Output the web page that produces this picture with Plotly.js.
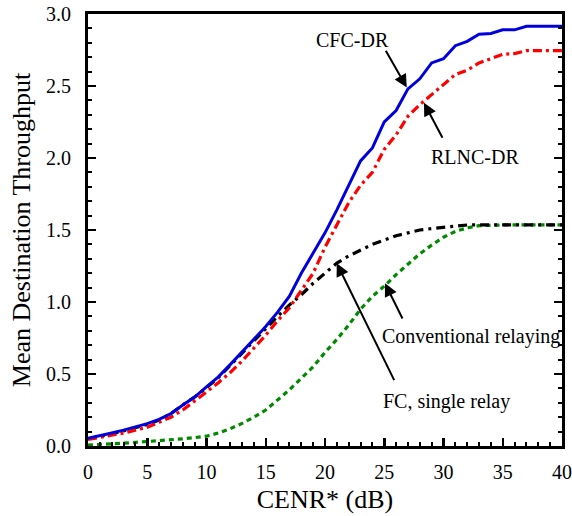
<!DOCTYPE html>
<html>
<head>
<meta charset="utf-8">
<script src="https://cdn.plot.ly/plotly-3.0.1.min.js"></script>
<style>html,body{margin:0;padding:0;background:#fff;}#chart{width:572px;height:516px;}</style>
</head>
<body>
<div id="chart"></div>
<script>
const cenr = [0,1,2,3,4,5,6,7,8,9,10,11,12,13,14,15,16,17,18,19,20,21,22,23,24,25,26,27,28,29,30,31,32,33,34,35,36,37,38,39,40];
const cfcDR = [0.053,0.07,0.09,0.11,0.13,0.155,0.185,0.225,0.285,0.34,0.41,0.48,0.565,0.655,0.74,0.83,0.93,1.04,1.2,1.34,1.48,1.64,1.81,1.98,2.07,2.25,2.33,2.48,2.55,2.66,2.69,2.78,2.81,2.86,2.865,2.89,2.89,2.915,2.915,2.915,2.915];
const rlncDR = [0.046,0.06,0.075,0.09,0.11,0.13,0.165,0.2,0.25,0.31,0.375,0.44,0.51,0.59,0.68,0.77,0.87,0.96,1.08,1.2,1.38,1.53,1.69,1.81,1.9,2.06,2.16,2.29,2.37,2.44,2.51,2.58,2.61,2.66,2.69,2.72,2.725,2.745,2.745,2.745,2.745];
const conventional = [0.05,0.065,0.085,0.105,0.125,0.15,0.18,0.225,0.285,0.34,0.405,0.475,0.56,0.645,0.73,0.82,0.9,0.98,1.05,1.13,1.2,1.27,1.32,1.36,1.4,1.43,1.46,1.48,1.5,1.51,1.52,1.53,1.535,1.535,1.535,1.535,1.535,1.535,1.535,1.535,1.535];
const fcSingle = [0.007,0.01,0.015,0.02,0.025,0.03,0.035,0.042,0.05,0.058,0.068,0.09,0.12,0.157,0.2,0.25,0.32,0.39,0.47,0.55,0.65,0.74,0.84,0.95,1.04,1.11,1.19,1.265,1.335,1.395,1.45,1.49,1.515,1.53,1.535,1.535,1.535,1.535,1.535,1.535,1.535];

const FONT = '"Liberation Serif", serif';

const traces = [
  {x: cenr, y: fcSingle, mode: 'lines', name: 'FC, single relay',
   line: {color: '#008a00', width: 3.2, dash: '5px,4px'}},
  {x: cenr, y: conventional, mode: 'lines', name: 'Conventional relaying',
   line: {color: '#000000', width: 3.2, dash: '9px,5px,3px,5px'}},
  {x: cenr, y: rlncDR, mode: 'lines', name: 'RLNC-DR',
   line: {color: '#ff0000', width: 3.2, dash: '9px,4px,3px,4px'}},
  {x: cenr, y: cfcDR, mode: 'lines', name: 'CFC-DR',
   line: {color: '#0000dd', width: 3}}
];

function label(text, x, y) {
  return {text: text, x: x, y: y, xref: 'x', yref: 'y', showarrow: false,
          font: {family: FONT, size: 20, color: '#000'}, xanchor: 'center', yanchor: 'middle'};
}
function arrow(hx, hy, tx, ty) {
  return {text: '', x: hx, y: hy, ax: tx, ay: ty, xref: 'x', yref: 'y', axref: 'x', ayref: 'y',
          showarrow: true, arrowhead: 2, arrowsize: 1.3, arrowwidth: 2, arrowcolor: '#000', standoff: 0};
}

const layout = {
  width: 572, height: 516,
  margin: {l: 88, r: 10, t: 14, b: 70},
  paper_bgcolor: '#fff', plot_bgcolor: '#fff',
  showlegend: false,
  font: {family: FONT, color: '#000', size: 19},
  xaxis: {
    range: [0, 40], tickmode: 'linear', tick0: 0, dtick: 5,
    ticks: 'inside', ticklen: 8, tickwidth: 2.5, tickcolor: '#000',
    minor: {ticks: 'inside', dtick: 1, ticklen: 4, tickwidth: 2, tickcolor: '#000'},
    showline: true, linewidth: 3, linecolor: '#000', mirror: true,
    showgrid: false, zeroline: false,
    tickfont: {family: FONT, size: 20}, ticklabelstandoff: 6,
    title: {text: 'CENR* (dB)', font: {family: FONT, size: 26}, standoff: 8}
  },
  yaxis: {
    range: [0, 3], tickmode: 'linear', tick0: 0, dtick: 0.5, tickformat: '.1f',
    ticks: 'inside', ticklen: 8, tickwidth: 2.5, tickcolor: '#000',
    minor: {ticks: 'inside', dtick: 0.1, ticklen: 4, tickwidth: 2, tickcolor: '#000'},
    showline: true, linewidth: 3, linecolor: '#000', mirror: 'ticks',
    showgrid: false, zeroline: false,
    tickfont: {family: FONT, size: 20}, ticklabelstandoff: 10,
    title: {text: 'Mean Destination Throughput', font: {family: FONT, size: 26}, standoff: 8}
  },
  annotations: [
    label('CFC-DR', 22.36, 2.82),
    arrow(26.9, 2.49, 25.06, 2.755),
    label('RLNC-DR', 32.66, 2.01),
    arrow(28.35, 2.384, 29.98, 2.13),
    label('Conventional relaying', 32.3, 0.76),
    arrow(25.06, 1.13, 26.6, 0.875),
    label('FC, single relay', 30.27, 0.31),
    arrow(20.99, 1.269, 25.9, 0.447)
  ]
};

Plotly.newPlot('chart', traces, layout, {displayModeBar: false, staticPlot: true});
</script>
</body>
</html>
